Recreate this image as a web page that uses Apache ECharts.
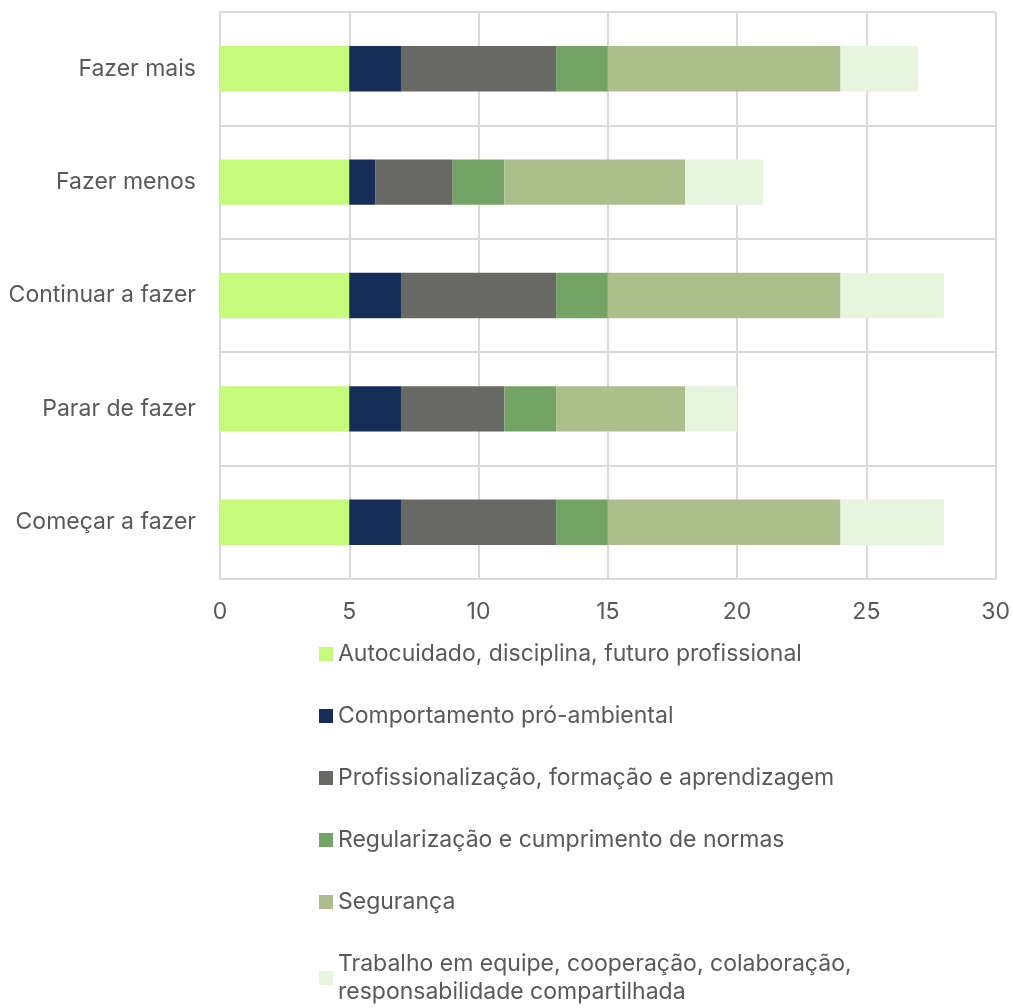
<!DOCTYPE html>
<html><head><meta charset="utf-8">
<script src="https://cdn.jsdelivr.net/npm/echarts@6/dist/echarts.min.js"></script>
<style>html,body{margin:0;padding:0;background:#fff}#c{width:1013px;height:1008px}</style>
</head><body><div id="c"></div>
<script>
const categories = ["Começar a fazer","Parar de fazer","Continuar a fazer","Fazer menos","Fazer mais"];
const seriesNames = [
  "Autocuidado, disciplina, futuro profissional",
  "Comportamento pró-ambiental",
  "Profissionalização, formação e aprendizagem",
  "Regularização e cumprimento de normas",
  "Segurança",
  "Trabalho em equipe, cooperação, colaboração, responsabilidade compartilhada"
];
const autocuidado = [5,5,5,5,5];
const comportamento = [2,2,2,1,2];
const profissionalizacao = [6,4,6,3,6];
const regularizacao = [2,2,2,2,2];
const seguranca = [9,5,9,7,9];
const trabalho = [4,2,4,3,3];
const colors = ["#C5FA7A","#162D57","#686964","#73A466","#ABBE8C","#E7F4DE"];
const values = [autocuidado, comportamento, profissionalizacao, regularizacao, seguranca, trabalho];
const font = "Inter, 'Noto Sans', sans-serif";
const chart = echarts.init(document.getElementById('c'));
chart.setOption({
  animation:false,
  color: colors,
  grid:{left:220, right:16, top:12, bottom:429, containLabel:false},
  xAxis:{type:'value', min:0, max:30, interval:5,
    axisLine:{show:false}, axisTick:{show:false},
    splitLine:{lineStyle:{color:'#d9d9d9', width:2}},
    axisLabel:{color:'#595959', fontSize:23, fontFamily:font, margin:22}},
  yAxis:{type:'category', data:categories,
    axisLine:{show:true, lineStyle:{color:'#d9d9d9', width:2}}, axisTick:{show:false},
    splitLine:{show:true, lineStyle:{color:'#d9d9d9', width:2}},
    axisLabel:{color:'#595959', fontSize:23, fontFamily:font, margin:24}},
  legend:{orient:'vertical', left:319, top:640, height:450, padding:0, itemWidth:14, itemHeight:14, itemGap:34,
    icon:'rect',
    textStyle:{color:'#595959', fontSize:23, fontFamily:font, lineHeight:28},
    formatter: n => n.replace('colaboração, ', 'colaboração,\n')},
  series: seriesNames.map((n,i)=>({name:n, type:'bar', stack:'t', barWidth:'40%',
    data: values[i], itemStyle:{color:colors[i]}}))
});
</script></body></html>
